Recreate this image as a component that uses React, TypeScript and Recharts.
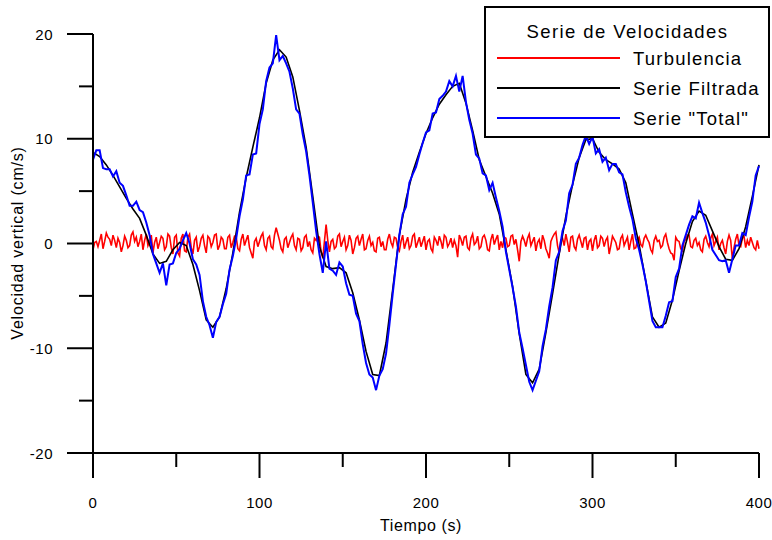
import React from 'react';
import { LineChart, Line, XAxis, YAxis } from 'recharts';

const FONT = '"Liberation Sans", Arial, sans-serif';

const X_TICKS = [0, 50, 100, 150, 200, 250, 300, 350, 400];
const X_LABELED = [0, 100, 200, 300, 400];
const Y_TICKS = [-20, -15, -10, -5, 0, 5, 10, 15, 20];
const Y_LABELED = [-20, -10, 0, 10, 20];

const SERIES_NAMES = ['Turbulencia', 'Serie Filtrada', 'Serie "Total"'];
const SERIES_COLORS = ['#ff0000', '#000000', '#0000ff'];
const LEGEND_TITLE = 'Serie de Velocidades';
const X_TITLE = 'Tiempo (s)';
const Y_TITLE = 'Velocidad vertical (cm/s)';

// Turbulencia, sampled every 1 s (t = 0..400)
const TURB_STEP = 1;
const turbulencia = [
  -0.6, 0.1, 0.2, -0.3, 0.3, 0.9, -0.5, 0.2, 1.0, 0.6, 0.4, -0.2, 0.8, 0.3, -0.4, 0.5, 0.1, -0.8, -0.2, 0.7,
  0.3, -0.4, -0.2, 0.8, 1.1, 0.2, 0.6, -0.3, 0.2, 0.9, -0.6, 0.3, 0.9, -0.2, 0.2, 0.8, -0.9, 0.1, 0.6, -0.5,
  0.1, 0.7, 0.5, -0.6, -0.3, 0.9, 0.7, -0.4, -1.0, 0.6, 0.8, -0.9, -1.2, 0.5, 0.9, -0.7, -0.8, 0.6, 0.9, -0.4,
  -1.0, 0.3, 0.6, -0.8, -0.3, 0.5, 0.8, -0.2, -0.9, 0.7, 0.5, -0.3, 0.1, 0.8, 0.9, -0.6, -0.2, 0.6, 0.4, -0.5,
  -0.5, 0.6, 0.8, -0.4, 0.1, 0.7, 0.6, -0.5, -0.7, 0.4, 0.9, -0.2, 0.3, 0.8, -0.4, -0.9, -1.4, 0.2, 0.5, -0.3,
  0.2, 0.7, 1.0, -0.2, -0.6, 0.5, 0.7, -0.3, -0.5, 0.8, 1.5, 0.9, 0.3, -0.5, -0.8, 0.4, 0.6, -0.4, 0.1, 0.6,
  0.9, -0.2, -0.6, 0.5, 0.4, -0.7, -0.4, 0.6, 0.8, -0.3, 0.2, -0.6, -0.9, 0.5, 0.3, 0.7, 0.6, -0.8, -1.4, 0.2,
  1.8, 0.3, -0.8, 0.2, 0.4, -0.5, -0.3, 0.7, 0.9, -0.3, 0.2, 0.6, -0.6, -0.2, 0.8, 0.3, -1.0, -0.4, 0.5, 0.7,
  -0.2, 0.4, 0.9, -0.6, -0.5, 0.3, 0.7, -0.2, 0.1, -0.7, -0.8, 0.5, 0.6, -0.3, 0.2, -0.6, -0.6, 0.4, 0.9, 0.1,
  -0.3, 0.6, 0.5, -0.4, -0.7, 0.2, 0.8, -0.5, 0.1, 0.6, -0.5, -0.2, 0.7, 0.9, -0.4, 0.1, 0.6, -0.3, 0.2, 0.7,
  -0.6, 0.2, 0.4, -0.5, -0.8, 0.6, 0.3, -0.2, 0.7, 0.2, -0.5, 0.8, 0.6, -0.3, 0.0, 0.5, -0.4, 0.3, -0.2, -1.3,
  0.8, 0.4, -0.2, 0.6, 0.7, -0.4, -0.6, 0.5, 0.9, -0.1, 0.1, 0.7, -0.5, -0.3, 0.6, 0.8, 0.3, -0.6, -0.7, 0.4,
  0.9, -0.1, 0.4, 0.8, -0.6, 0.2, -0.4, 0.6, 0.5, -0.3, -0.2, 0.7, 0.8, -0.1, 0.4, -0.6, -1.7, 0.2, 0.7, 0.3,
  -0.3, 0.5, 0.9, -0.2, 0.2, 0.6, -0.7, 0.1, 0.4, -0.5, 0.8, 0.3, -0.5, -0.9, -1.4, 0.2, 0.6, 0.9, 1.1, -0.2,
  -0.9, 0.3, 0.5, -0.2, 0.9, 0.1, -0.8, 0.6, 0.7, -0.3, -0.6, 0.4, 0.8, 0.2, -0.4, 0.5, 0.6, -0.6, 0.2, 0.4,
  -0.7, 0.3, 0.8, -0.4, -0.2, 0.7, 0.5, -0.3, 0.3, 0.6, -1.0, -0.2, 0.7, 0.4, 0.1, -0.6, -0.5, 0.5, 0.8, -0.2,
  0.2, 0.6, -0.6, 0.2, 0.9, -0.5, -0.4, 0.3, 0.6, -0.1, -0.3, 0.5, 0.8, 0.4, 0.1, -0.6, -0.9, 0.3, 0.7, 0.2,
  0.3, -0.4, -0.2, 0.6, 0.9, 0.1, -0.5, -0.9, -1.0, -1.6, 0.6, 0.3, 0.2, -0.5, -0.7, 0.2, 0.4, 0.8, 0.8, -0.3,
  -0.4, 0.3, 0.5, -0.2, 0.1, -0.6, -0.8, 0.4, 0.7, 0.1, -0.3, 0.5, 0.9, -0.2, 0.2, 0.6, -0.6, 0.0, 0.3, -0.4,
  -1.0, 0.2, 0.8, 0.3, -1.5, -0.4, 0.4, 0.9, -0.2, -0.3, 0.5, 0.7, -0.4, 0.3, -0.2, 0.6, 0.1, -0.4, -0.6, 0.3,
  -0.5,
];

// Serie Filtrada, sampled every 4 s (t = 0..400)
const FILT_STEP = 4;
const filtrada = [
  8.7, 8.3, 7.5, 6.5, 5.4, 4.3, 3.3, 2.4, 0.8, -1.0,
  -1.9, -1.7, -0.6, 0.1, -0.2, -2.0, -4.5, -7.3, -8.0, -7.0,
  -4.3, -0.9, 3.0, 6.3, 9.2, 12.0, 15.3, 17.5, 18.5, 17.8,
  15.9, 12.7, 9.2, 4.5, -0.3, -2.2, -2.4, -2.3, -2.8, -4.7,
  -7.3, -10.3, -12.5, -12.6, -9.5, -4.4, 0.8, 4.2, 6.8, 8.7,
  10.5, 12.0, 13.3, 14.2, 15.0, 15.3, 13.4, 10.8, 8.0, 6.4,
  4.8, 2.8, -0.6, -4.1, -8.6, -12.5, -13.3, -12.0, -8.5, -4.8,
  -1.0, 2.6, 5.6, 8.2, 9.9, 10.0, 8.7, 8.0, 7.6, 7.1,
  5.8, 2.8, -0.1, -3.6, -7.0, -8.0, -7.6, -5.4, -2.6, 0.0,
  2.1, 3.1, 2.7, 1.2, -0.3, -1.5, -1.6, -0.5, 1.6, 4.5,
  7.5,
];

// Serie "Total", sampled every 2 s (t = 0..400)
const TOTAL_STEP = 2;
const total = [
  8.0, 8.9, 8.9, 7.2, 7.1, 7.1, 6.4, 6.9, 5.8, 5.5,
  4.6, 3.6, 3.6, 4.0, 3.2, 3.0, 2.0, 0.8, -1.0, -1.9,
  -2.8, -1.9, -4.0, -2.0, -1.9, -0.9, -0.5, 0.3, 1.0, 0.0,
  -1.5, -2.0, -3.0, -5.5, -7.0, -7.8, -9.0, -7.5, -7.0, -5.8,
  -4.8, -2.5, -1.2, 0.5, 2.6, 4.2, 6.5, 6.6, 8.5, 8.6,
  11.4, 12.8, 15.5, 16.8, 17.2, 19.9, 17.5, 17.9, 17.2, 16.4,
  14.8, 12.8, 12.4, 10.4, 8.8, 6.5, 3.9, 1.2, -1.0, -2.8,
  0.2, -2.4, -2.6, -3.0, -1.8, -2.2, -3.8, -4.9, -5.0, -6.7,
  -7.4, -9.6, -11.4, -12.5, -12.8, -14.0, -12.6, -12.0, -10.5, -7.8,
  -4.8, -2.0, 0.8, 2.8, 3.5, 5.8, 6.6, 7.3, 8.5, 9.6,
  10.6, 10.8, 12.4, 12.5, 13.8, 14.1, 14.5, 15.5, 15.0, 16.0,
  14.5, 16.0, 13.5, 11.8, 10.5, 8.5, 8.1, 6.7, 6.5, 5.1,
  5.8, 4.4, 3.1, 1.6, -0.8, -2.5, -4.2, -6.0, -8.5, -10.0,
  -11.6, -13.2, -14.0, -13.1, -12.2, -9.8, -8.2, -6.0, -4.2, -1.6,
  -0.8, 1.2, 2.2, 4.8, 5.6, 7.6, 8.2, 9.4, 10.3, 9.5,
  10.2, 8.6, 9.0, 7.8, 8.2, 7.0, 7.6, 7.6, 6.8, 6.6,
  4.9, 3.5, 2.3, 0.5, -0.6, -2.0, -3.6, -5.5, -7.4, -8.0,
  -8.0, -8.0, -6.9, -5.6, -5.5, -3.2, -2.4, -0.2, 0.8, 1.8,
  2.6, 2.4, 3.9, 2.9, 2.0, 0.8, -0.6, -1.1, -1.6, -1.7,
  -1.6, -2.8, -1.5, -0.2, -0.2, 1.0, 0.8, 2.5, 4.0, 6.5,
  7.4,
];

const toRows = (vals: number[], step: number) => vals.map((v, i) => ({ t: i * step, v }));

const turbRows = toRows(turbulencia, TURB_STEP);
const filtRows = toRows(filtrada, FILT_STEP);
const totalRows = toRows(total, TOTAL_STEP);

const Y_TICK_MAJOR = 26;
const Y_TICK_MINOR = 14;
const Y_TICK_MARGIN = 14;
const X_TICK_MAJOR = 25;
const X_TICK_MINOR = 14;

const YTick = (props: any) => {
  const { x, y, payload } = props;
  const axisX = x + Y_TICK_MARGIN + Y_TICK_MAJOR;
  const major = Y_LABELED.includes(payload.value);
  const len = major ? Y_TICK_MAJOR : Y_TICK_MINOR;
  return (
    <g>
      <line x1={axisX - len} x2={axisX} y1={y} y2={y} stroke="#000" strokeWidth={2} />
      {major && (
        <text x={x} y={y + 5.5} textAnchor="end" fontFamily={FONT} fontSize={15} letterSpacing={0.5} fill="#000">
          {payload.value}
        </text>
      )}
    </g>
  );
};

const XTick = (props: any) => {
  const { x, y, payload } = props;
  const axisY = y - X_TICK_MAJOR;
  const major = X_LABELED.includes(payload.value);
  const len = major ? X_TICK_MAJOR : X_TICK_MINOR;
  return (
    <g>
      <line x1={x} x2={x} y1={axisY} y2={axisY + len} stroke="#000" strokeWidth={2} />
      {major && (
        <text x={x} y={axisY + 55} textAnchor="middle" fontFamily={FONT} fontSize={15} letterSpacing={0.5} fill="#000">
          {payload.value}
        </text>
      )}
    </g>
  );
};

export default function App() {
  const rows = [turbRows, filtRows, totalRows];
  return (
    <div style={{ position: 'absolute', left: 0, top: 0, width: 772, height: 540, background: '#fff' }}>
      <LineChart width={772} height={540} margin={{ top: 34, right: 13, left: 0, bottom: 0 }}>
        <XAxis
          type="number"
          dataKey="t"
          domain={[0, 400]}
          ticks={X_TICKS}
          interval={0}
          height={87}
          tickSize={X_TICK_MAJOR}
          tickMargin={0}
          tickLine={false}
          tick={<XTick />}
          axisLine={{ stroke: '#000', strokeWidth: 2 }}
          allowDuplicatedCategory={false}
        />
        <YAxis
          type="number"
          domain={[-20, 20]}
          ticks={Y_TICKS}
          interval={0}
          width={93}
          tickSize={Y_TICK_MAJOR}
          tickMargin={Y_TICK_MARGIN}
          tickLine={false}
          tick={<YTick />}
          axisLine={{ stroke: '#000', strokeWidth: 2 }}
        />
        {rows.map((d, i) => (
          <Line
            key={SERIES_NAMES[i]}
            data={d}
            dataKey="v"
            name={SERIES_NAMES[i]}
            type="linear"
            stroke={SERIES_COLORS[i]}
            strokeWidth={i === 2 ? 2 : 1.6}
            dot={false}
            activeDot={false}
            isAnimationActive={false}
          />
        ))}
      </LineChart>
      <svg width={772} height={540} style={{ position: 'absolute', left: 0, top: 0, pointerEvents: 'none' }}>
        <text x={421} y={531} textAnchor="middle" fontFamily={FONT} fontSize={16} letterSpacing={0.6} fill="#000">
          {X_TITLE}
        </text>
        <text
          x={0}
          y={0}
          transform="translate(23,243) rotate(-90)"
          textAnchor="middle"
          fontFamily={FONT}
          fontSize={16}
          letterSpacing={0.8}
          fill="#000"
        >
          {Y_TITLE}
        </text>
        <rect x={485} y={7} width={284} height={130} fill="#fff" stroke="#000" strokeWidth={2} />
        <text x={627.5} y={38} textAnchor="middle" fontFamily={FONT} fontSize={18.5} letterSpacing={1.4} fill="#000">
          {LEGEND_TITLE}
        </text>
        {SERIES_NAMES.map((n, i) => (
          <g key={n}>
            <line x1={497} x2={620} y1={58 + i * 30} y2={58 + i * 30} stroke={SERIES_COLORS[i]} strokeWidth={2} />
            <text x={633} y={65 + i * 30} fontFamily={FONT} fontSize={18.5} letterSpacing={1.2} fill="#000">
              {n}
            </text>
          </g>
        ))}
      </svg>
    </div>
  );
}
